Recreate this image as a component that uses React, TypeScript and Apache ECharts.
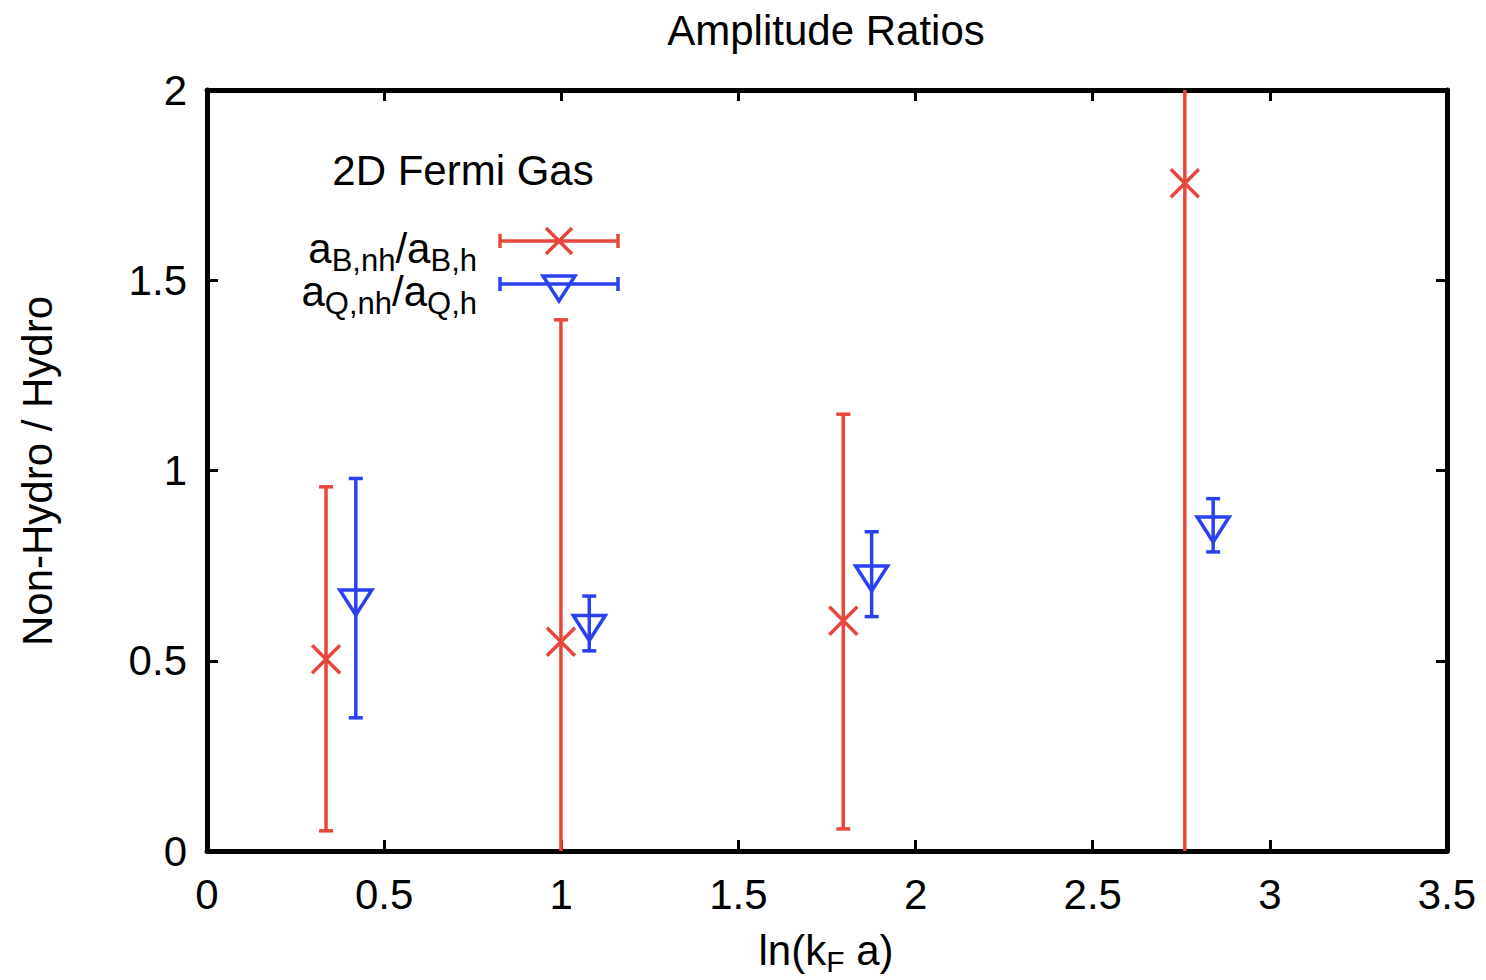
import React, { useEffect, useRef } from "react";
import * as echarts from "echarts";

const FONT = "'Liberation Sans', Arial, Helvetica, sans-serif";
const RED = "#e8463c";
const BLUE = "#2b40f0";

// a_B,nh / a_B,h  (red crosses)
const bX = [0.336, 0.999, 1.796, 2.76];
const bY = [0.504, 0.55, 0.605, 1.755];
const bLo = [0.053, -0.3, 0.058, -0.25];
const bHi = [0.957, 1.396, 1.148, 3.76];

// a_Q,nh / a_Q,h  (blue down triangles)
const qX = [0.42, 1.079, 1.876, 2.84];
const qY = [0.665, 0.598, 0.728, 0.857];
const qLo = [0.35, 0.526, 0.616, 0.786];
const qHi = [0.979, 0.67, 0.839, 0.926];

const xTicks = { min: 0, max: 3.5, interval: 0.5 };
const yTicks = { min: 0, max: 2, interval: 0.5 };

const LW = 3.5;

function crossShape(cx: number, cy: number, s: number, color: string) {
  const st = { stroke: color, lineWidth: LW };
  return [
    { type: "line", shape: { x1: cx - s, y1: cy - s, x2: cx + s, y2: cy + s }, style: st },
    { type: "line", shape: { x1: cx - s, y1: cy + s, x2: cx + s, y2: cy - s }, style: st },
  ];
}

function triShape(cx: number, cy: number, color: string) {
  return [
    {
      type: "polygon",
      shape: { points: [[cx - 16, cy - 8], [cx + 16, cy - 8], [cx, cy + 17]] },
      style: { stroke: color, lineWidth: LW, fill: "none" },
    },
  ];
}

function makeRender(kind: "b" | "q") {
  return (params: any, api: any) => {
    const x = api.value(0);
    const y = api.value(1);
    const lo = api.value(2);
    const hi = api.value(3);
    const cs = params.coordSys;
    const top = cs.y;
    const bottom = cs.y + cs.height;
    const c = api.coord([x, y]);
    const pLo = api.coord([x, lo]);
    const pHi = api.coord([x, hi]);
    const color = kind === "b" ? RED : BLUE;
    const st = { stroke: color, lineWidth: LW };
    const yTop = Math.max(pHi[1], top);
    const yBot = Math.min(pLo[1], bottom);
    const children: any[] = [
      { type: "line", shape: { x1: c[0], y1: yTop, x2: c[0], y2: yBot }, style: st },
    ];
    if (pHi[1] >= top) {
      children.push({ type: "line", shape: { x1: c[0] - 7, y1: pHi[1], x2: c[0] + 7, y2: pHi[1] }, style: st });
    }
    if (pLo[1] <= bottom) {
      children.push({ type: "line", shape: { x1: c[0] - 7, y1: pLo[1], x2: c[0] + 7, y2: pLo[1] }, style: st });
    }
    if (kind === "b") children.push(...crossShape(c[0], c[1], 14, color));
    else children.push(...triShape(c[0], c[1], color));
    return { type: "group", children };
  };
}

const subRich = (fs: number, sub: number, drop: number) => ({
  m: { fontSize: fs, fontFamily: FONT, color: "#000", lineHeight: fs + drop, verticalAlign: "middle" },
  s: { fontSize: sub, fontFamily: FONT, color: "#000", lineHeight: fs + drop, verticalAlign: "bottom" },
});

export default function App() {
  const ref = useRef<HTMLDivElement>(null);
  useEffect(() => {
    const chart = echarts.init(ref.current!, null, { renderer: "svg" });
    const bData = bX.map((x, i) => [x, bY[i], bLo[i], bHi[i]]);
    const qData = qX.map((x, i) => [x, qY[i], qLo[i], qHi[i]]);
    const axisLine = { show: true, onZero: false, lineStyle: { color: "#000", width: 5 } };
    const tick = { show: true, inside: true, length: 11, lineStyle: { color: "#000", width: 3 } };
    const label = { fontSize: 42, fontFamily: FONT, color: "#000" };
    const L1 = 241;
    const L2 = 284;
    const lx1 = 500;
    const lx2 = 618;
    const lmid = 559;
    const legLine = (y: number, color: string) => [
      { type: "line", shape: { x1: lx1, y1: y, x2: lx2, y2: y }, style: { stroke: color, lineWidth: LW } },
      { type: "line", shape: { x1: lx1, y1: y - 7, x2: lx1, y2: y + 7 }, style: { stroke: color, lineWidth: LW } },
      { type: "line", shape: { x1: lx2, y1: y - 7, x2: lx2, y2: y + 7 }, style: { stroke: color, lineWidth: LW } },
    ];
    chart.setOption({
      animation: false,
      backgroundColor: "#fff",
      grid: { left: 207, right: 39, top: 90, bottom: 129, containLabel: false },
      xAxis: [
        {
          type: "value",
          position: "bottom",
          ...xTicks,
          axisLine,
          axisTick: tick,
          splitLine: { show: false },
          axisLabel: { ...label, margin: 22, formatter: (v: number) => String(v) },
        },
        {
          type: "value",
          position: "top",
          ...xTicks,
          axisLine,
          axisTick: tick,
          splitLine: { show: false },
          axisLabel: { show: false },
        },
      ],
      yAxis: [
        {
          type: "value",
          position: "left",
          ...yTicks,
          axisLine,
          axisTick: tick,
          splitLine: { show: false },
          axisLabel: { ...label, margin: 20, formatter: (v: number) => String(v) },
        },
        {
          type: "value",
          position: "right",
          ...yTicks,
          axisLine,
          axisTick: tick,
          splitLine: { show: false },
          axisLabel: { show: false },
        },
      ],
      series: [
        {
          type: "custom",
          name: "aB",
          xAxisIndex: 0,
          yAxisIndex: 0,
          renderItem: makeRender("b"),
          encode: { x: 0, y: 1 },
          data: bData,
        },
        {
          type: "custom",
          name: "aQ",
          xAxisIndex: 0,
          yAxisIndex: 0,
          renderItem: makeRender("q"),
          encode: { x: 0, y: 1 },
          data: qData,
        },
      ],
      graphic: [
        {
          type: "text",
          x: 826,
          y: 30,
          style: { text: "Amplitude Ratios", fontSize: 42, fontFamily: FONT, fill: "#000", align: "center", verticalAlign: "middle" },
        },
        {
          type: "text",
          x: 37,
          y: 471,
          rotation: Math.PI / 2,
          style: { text: "Non-Hydro / Hydro", fontSize: 42, fontFamily: FONT, fill: "#000", align: "center", verticalAlign: "middle" },
        },
        {
          type: "text",
          x: 826,
          y: 950,
          style: {
            text: "{m|ln(k}{s|F}{m| a)}",
            align: "center",
            verticalAlign: "middle",
            rich: subRich(42, 30, 10),
          },
        },
        {
          type: "text",
          x: 463,
          y: 170,
          style: { text: "2D Fermi Gas", fontSize: 42, fontFamily: FONT, fill: "#000", align: "center", verticalAlign: "middle" },
        },
        {
          type: "text",
          x: 477,
          y: L1 + 7,
          style: {
            text: "{m|a}{s|B,nh}{m|/a}{s|B,h}",
            align: "right",
            verticalAlign: "middle",
            rich: subRich(42, 31, 14),
          },
        },
        {
          type: "text",
          x: 477,
          y: L2 + 7,
          style: {
            text: "{m|a}{s|Q,nh}{m|/a}{s|Q,h}",
            align: "right",
            verticalAlign: "middle",
            rich: subRich(42, 31, 14),
          },
        },
        ...legLine(L1, RED),
        ...crossShape(lmid, L1, 13, RED),
        ...legLine(L2, BLUE),
        ...triShape(lmid, L2, BLUE),
      ],
    });
    return () => chart.dispose();
  }, []);
  return <div ref={ref} style={{ position: "fixed", left: 0, top: 0, width: 1486, height: 980 }} />;
}
